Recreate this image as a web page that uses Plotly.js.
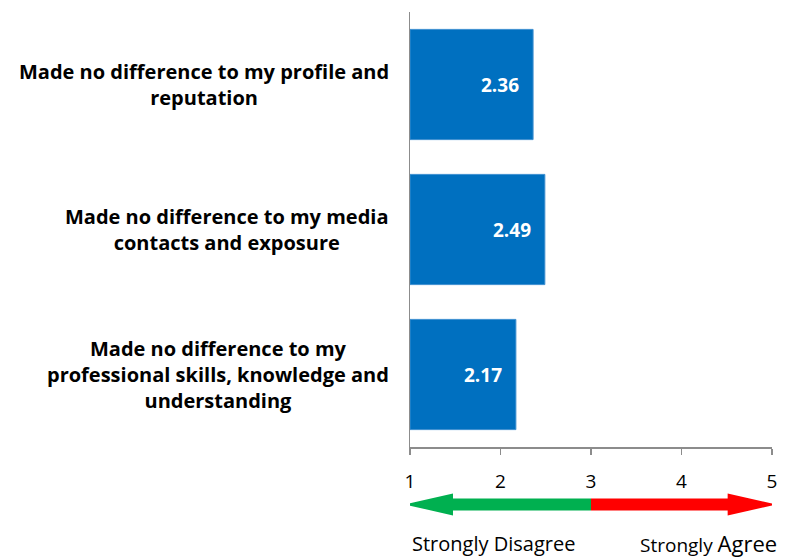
<!DOCTYPE html>
<html><head><meta charset="utf-8">
<script src="https://cdn.plot.ly/plotly-3.0.1.min.js"></script>
<style>html,body{margin:0;padding:0;background:#fff;}#chart{width:794px;height:558px;}</style>
</head><body><div id="chart"></div>
<script>
// Data (top to bottom)
const categories = [
  "Made no difference to my profile and<br>reputation",
  "Made no difference to my media<br>contacts and exposure",
  "Made no difference to my<br>professional skills, knowledge and<br>understanding"
];
const scores = [2.36, 2.49, 2.17];
const tickValues = [1, 2, 3, 4, 5];
const tickLabels = ["1", "2", "3", "4", "5"];
const scaleLabelLeft = "Strongly Disagree";
const scaleLabelRight = "Strongly <span style='font-size:22px'>Agree</span>";

const FONT = "Open Sans, Liberation Sans, sans-serif";
const plotTop = 12.5, plotBottom = 447.5, plotH = plotBottom - plotTop;
const py = p => (plotBottom - p) / plotH; // pixel y -> paper y
const ids = categories.map((c, i) => "c" + i);

const trace = {
  type: "bar",
  orientation: "h",
  y: ids,
  x: scores.map(v => v - 1),
  base: 1,
  marker: {color: "#0070C0", line: {color: "#3d8fd0", width: 1}},
  hoverinfo: "none",
  showlegend: false
};

const annotations = [];
categories.forEach((c, i) => {
  annotations.push({
    xref: "paper", yref: "y", x: 0, y: ids[i], xanchor: "right", yanchor: "middle",
    xshift: -19, text: "<b>" + c + "</b>", align: "center", showarrow: false,
    font: {family: FONT, size: 20, color: "#000"}
  });
  annotations.push({
    xref: "x", yref: "y", x: scores[i], y: ids[i], xanchor: "right", yanchor: "middle",
    xshift: -12, text: "<b>" + scores[i].toFixed(2) + "</b>", showarrow: false,
    font: {family: FONT, size: 19, color: "#fff"}
  });
});
annotations.push({
  xref: "x", yref: "paper", x: 1, y: py(544), xanchor: "left", yanchor: "middle",
  text: scaleLabelLeft, showarrow: false, xshift: 0,
  font: {family: FONT, size: 20, color: "#000"}
});
annotations.push({
  xref: "x", yref: "paper", x: 5, y: py(543), xanchor: "right", yanchor: "middle",
  text: scaleLabelRight, showarrow: false, xshift: 7,
  font: {family: FONT, size: 19, color: "#000"}
});

const yc = py(505), ys1 = py(499), ys2 = py(511), yh1 = py(494), yh2 = py(516);
const greenPath = `M 0.945 ${yc} L 1.475 ${yh1} L 1.475 ${ys1} L 3 ${ys1} L 3 ${ys2} L 1.475 ${ys2} L 1.475 ${yh2} Z`;
const redPath = `M 5.045 ${yc} L 4.51 ${yh1} L 4.51 ${ys1} L 3 ${ys1} L 3 ${ys2} L 4.51 ${ys2} L 4.51 ${yh2} Z`;

const layout = {
  width: 794, height: 558,
  margin: {l: 410, r: 22, t: 12, b: 111},
  paper_bgcolor: "#fff", plot_bgcolor: "#fff",
  bargap: 0.24,
  xaxis: {
    range: [1, 5], tickvals: tickValues, ticktext: tickLabels,
    showgrid: false, zeroline: false, showline: true, linecolor: "#8c8c8c", linewidth: 1.5,
    ticks: "outside", ticklen: 6, tickcolor: "#8c8c8c", tickwidth: 1.5,
    ticklabelstandoff: 11,
    tickfont: {family: FONT, size: 19, color: "#000"}
  },
  yaxis: {
    range: [2.5, -0.5], showticklabels: false, showgrid: false, zeroline: false,
    showline: true, linecolor: "#8c8c8c", linewidth: 1.5, ticks: ""
  },
  shapes: [
    {type: "path", xref: "x", yref: "paper", path: greenPath, fillcolor: "#00B050", line: {width: 0}},
    {type: "path", xref: "x", yref: "paper", path: redPath, fillcolor: "#FF0000", line: {width: 0}}
  ],
  annotations: annotations
};

Plotly.newPlot("chart", [trace], layout, {displayModeBar: false, staticPlot: true});
</script></body></html>
